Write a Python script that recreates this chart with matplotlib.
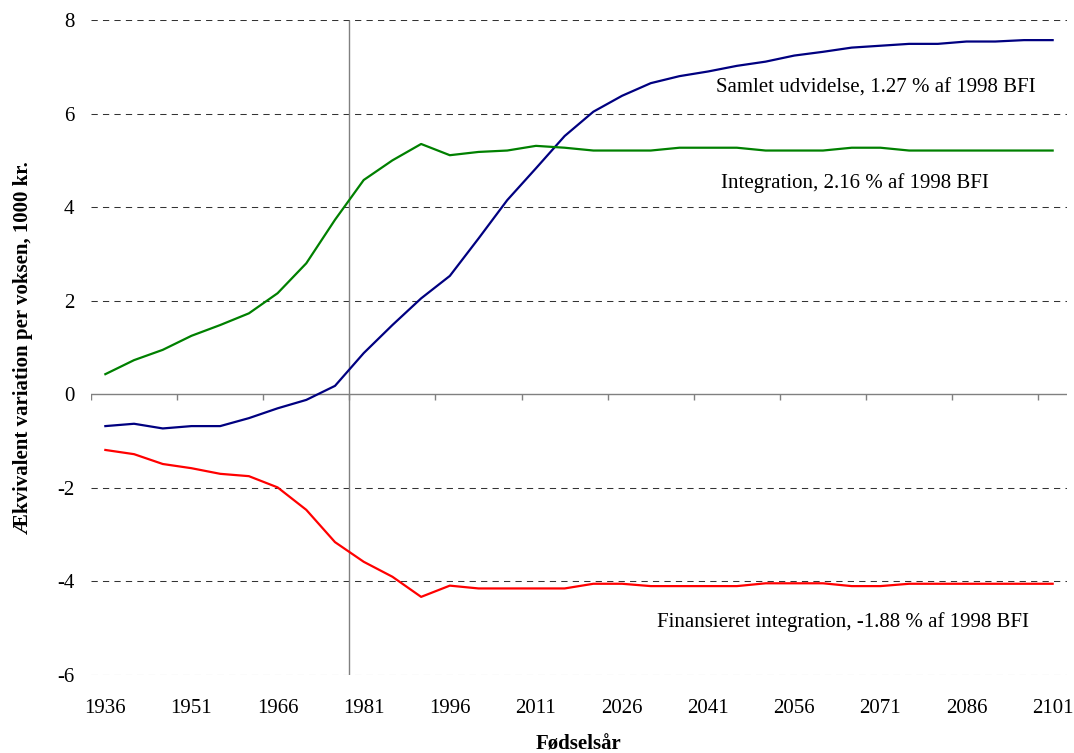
import matplotlib
matplotlib.use("Agg")
import matplotlib.pyplot as plt

plt.rcParams["font.family"] = ["Liberation Serif", "DejaVu Serif"]
plt.rcParams["axes.unicode_minus"] = False

# birth-year cohorts (one point every 5 years)
years = [1936, 1941, 1946, 1951, 1956, 1961, 1966, 1971, 1976, 1981,
         1986, 1991, 1996, 2001, 2006, 2011, 2016, 2021, 2026, 2031,
         2036, 2041, 2046, 2051, 2056, 2061, 2066, 2071, 2076, 2081,
         2086, 2091, 2096, 2101]

# equivalent variation per adult, 1000 kr.
samlet = [-0.68, -0.63, -0.73, -0.68, -0.68, -0.51, -0.30, -0.12, 0.18, 0.88,
          1.48, 2.05, 2.53, 3.33, 4.15, 4.83, 5.52, 6.04, 6.38, 6.65,
          6.80, 6.90, 7.02, 7.11, 7.24, 7.32, 7.41, 7.45, 7.49, 7.49,
          7.54, 7.54, 7.57, 7.57]
integration = [0.43, 0.73, 0.95, 1.25, 1.48, 1.73, 2.16, 2.80, 3.73, 4.58,
               5.00, 5.35, 5.11, 5.18, 5.21, 5.31, 5.27, 5.21, 5.21, 5.21,
               5.27, 5.27, 5.27, 5.21, 5.21, 5.21, 5.27, 5.27, 5.21, 5.21,
               5.21, 5.21, 5.21, 5.21]
finansieret = [-1.19, -1.28, -1.49, -1.58, -1.70, -1.75, -1.99, -2.47, -3.16, -3.58,
               -3.90, -4.33, -4.09, -4.15, -4.15, -4.15, -4.15, -4.05, -4.05, -4.10,
               -4.10, -4.10, -4.10, -4.04, -4.04, -4.04, -4.10, -4.10, -4.05, -4.05,
               -4.05, -4.05, -4.05, -4.05]

tick_years = years[::3]
yticks = [-6, -4, -2, 0, 2, 4, 6, 8]

NAVY, GREEN, RED = "#000080", "#008000", "#ff0000"
FS = 15

fig = plt.figure(figsize=(10.74, 7.53), dpi=100)
ax = fig.add_axes([91 / 1074, 78 / 753, 976 / 1074, 655 / 753])
ax.set_xlim(years[0] - 2.5, years[-1] + 2.5)
ax.set_ylim(-6, 8)
for s in ax.spines.values():
    s.set_visible(False)

# dashed gridlines, solid category axis at zero
for v in yticks:
    if v != 0:
        ax.axhline(v, color="0.2", lw=0.75, ls=(0, (6, 5)), zorder=1)
ax.axhline(0, color="0.5", lw=1.0, zorder=1)
ax.vlines(1978.5, -6, 8, color="0.5", lw=1.0, zorder=1)
ax.vlines([y - 2.5 for y in tick_years], -0.13, 0, color="0.5", lw=1.0, zorder=1)

ax.plot(years, samlet, color=NAVY, lw=1.6, zorder=3)
ax.plot(years, integration, color=GREEN, lw=1.6, zorder=3)
ax.plot(years, finansieret, color=RED, lw=1.6, zorder=3)

ax.text(2042.4, 6.55, "Samlet udvidelse, 1.27 % af 1998 BFI",
        ha="left", va="center", fontsize=FS)
ax.text(2043.2, 4.52, "Integration, 2.16 % af 1998 BFI",
        ha="left", va="center", fontsize=FS)
ax.text(2032.1, -4.87, "Finansieret integration, -1.88 % af 1998 BFI",
        ha="left", va="center", fontsize=FS)

ax.set_xticks(tick_years)
ax.set_xticklabels([str(y) for y in tick_years], fontsize=FS)
ax.set_yticks(yticks)
ax.set_yticklabels([str(v) for v in yticks], fontsize=FS)
ax.tick_params(axis="x", length=0, pad=17)
ax.tick_params(axis="y", length=0, pad=12)

ax.set_xlabel("Fødselsår", fontsize=FS, fontweight="bold", labelpad=12)
ax.set_ylabel("Ækvivalent variation per voksen, 1000 kr.", fontsize=FS,
              fontweight="bold", labelpad=17)

fig.savefig("out.png", dpi=100)
